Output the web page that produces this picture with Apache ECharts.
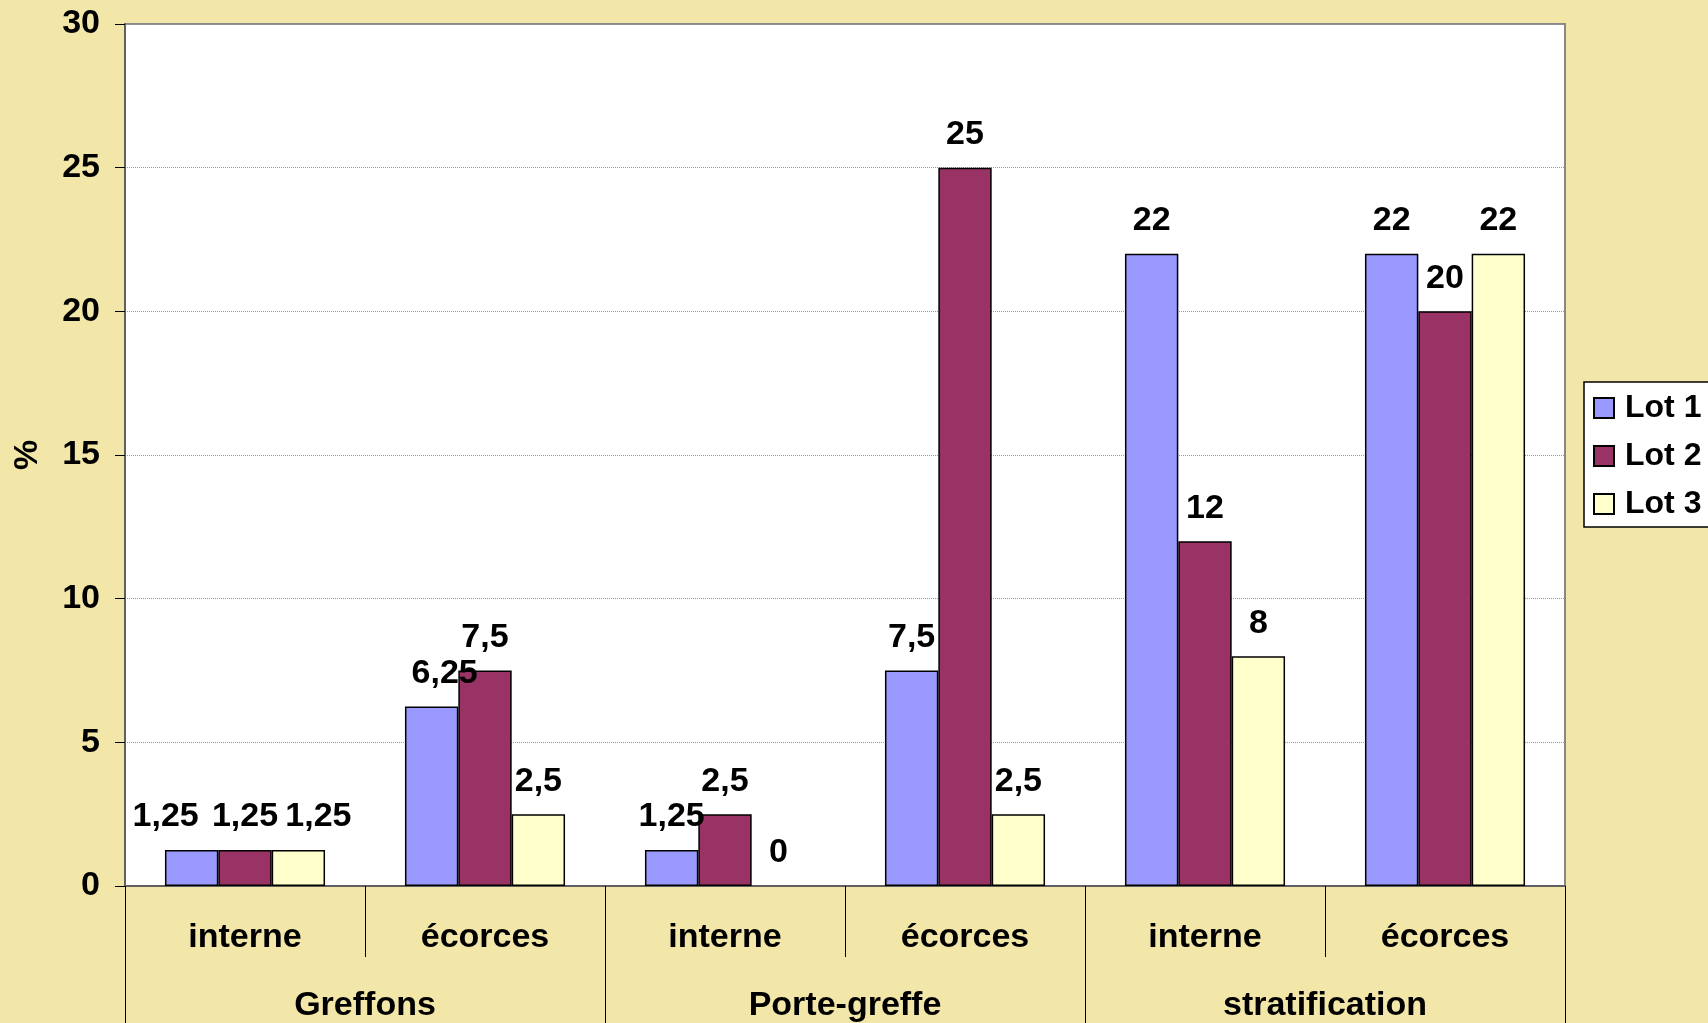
<!DOCTYPE html>
<html>
<head>
<meta charset="utf-8">
<script src="https://cdn.jsdelivr.net/npm/echarts@6/dist/echarts.min.js"></script>
<style>
  html, body { margin: 0; padding: 0; background: #F2E6A8; }
  #chart { width: 1708px; height: 1023px; }
</style>
</head>
<body>
<div id="chart"></div>
<script>
// sous-catégories et groupes
const subCategories = ['interne', 'écorces', 'interne', 'écorces', 'interne', 'écorces']
const groups = ['Greffons', 'Porte-greffe', 'stratification']
const lot1 = [1.25, 6.25, 1.25, 7.5, 22, 22]
const lot2 = [1.25, 7.5, 2.5, 25, 12, 20]
const lot3 = [1.25, 2.5, 0, 2.5, 8, 22]
const yTicks = [0, 5, 10, 15, 20, 25, 30]

const FONT = 'Liberation Sans, Arial, sans-serif'
const FS = 34

// labels déplacés à la main dans l'original
const labelShift = {
  'Lot 1': { 0: [-26, 0], 1: [13, 0] },
  'Lot 3': { 0: [20, 0] }
}

function makeSeries(name, values, color) {
  return {
    name: name,
    type: 'bar',
    xAxisIndex: 0,
    barGap: '0%',
    barCategoryGap: '33.3%',
    itemStyle: { color: color, borderColor: '#000', borderWidth: 1.5 },
    label: {
      show: true,
      position: 'top',
      distance: 16,
      fontFamily: FONT,
      fontWeight: 'bold',
      fontSize: FS,
      color: '#000',
      formatter: p => String(p.value).replace('.', ',')
    },
    data: values.map((v, i) => {
      const item = { value: v }
      const off = (labelShift[name] || {})[i]
      if (off) item.label = { offset: off }
      if (v === 0) item.itemStyle = { borderWidth: 0 }
      return item
    })
  }
}

const myChart = echarts.init(document.getElementById('chart'))
myChart.setOption({
  backgroundColor: '#F2E6A8',
  animation: false,
  textStyle: { fontFamily: FONT },
  grid: {
    left: 125, right: 143, top: 24, bottom: 137,
    show: true,
    backgroundColor: '#fff',
    borderColor: '#888',
    borderWidth: 2
  },
  legend: {
    orient: 'vertical',
    left: 1584,
    top: 382,
    backgroundColor: '#fff',
    borderColor: '#000',
    borderWidth: 1.5,
    borderRadius: 0,
    padding: [9, 12, 6, 9],
    itemWidth: 20,
    itemHeight: 20,
    itemGap: 14,
    icon: 'rect',
    textStyle: {
      fontFamily: FONT, fontWeight: 'bold', fontSize: 32, color: '#000',
      lineHeight: 34, padding: [0, 0, 0, 6]
    },
    data: ['Lot 1', 'Lot 2', 'Lot 3']
  },
  xAxis: [
    {
      type: 'category',
      position: 'bottom',
      data: subCategories,
      axisLine: { show: true, lineStyle: { color: '#606060', width: 2 } },
      axisTick: { show: true, interval: 0, length: 71, lineStyle: { color: '#000', width: 1 } },
      axisLabel: {
        interval: 0, margin: 35,
        fontFamily: FONT, fontWeight: 'bold', fontSize: FS, color: '#000'
      }
    },
    {
      type: 'category',
      position: 'bottom',
      data: groups,
      axisLine: { show: false },
      axisTick: { show: true, interval: 0, length: 137, lineStyle: { color: '#000', width: 1 } },
      axisLabel: {
        interval: 0, margin: 103,
        fontFamily: FONT, fontWeight: 'bold', fontSize: FS, color: '#000'
      }
    }
  ],
  yAxis: {
    type: 'value',
    min: yTicks[0],
    max: yTicks[yTicks.length - 1],
    interval: 5,
    name: '%',
    nameLocation: 'middle',
    nameGap: 80,
    nameTextStyle: { fontFamily: FONT, fontWeight: 'bold', fontSize: FS, color: '#000' },
    axisLine: { show: true, lineStyle: { color: '#606060', width: 2 } },
    axisTick: { show: true, length: 10, lineStyle: { color: '#000', width: 1 } },
    axisLabel: {
      margin: 25,
      fontFamily: FONT, fontWeight: 'bold', fontSize: FS, color: '#000'
    },
    splitLine: { show: true, lineStyle: { color: '#999', type: 'dotted', width: 1 } }
  },
  series: [
    makeSeries('Lot 1', lot1, '#9999FF'),
    makeSeries('Lot 2', lot2, '#993366'),
    makeSeries('Lot 3', lot3, '#FFFFCC')
  ]
})
</script>
</body>
</html>
